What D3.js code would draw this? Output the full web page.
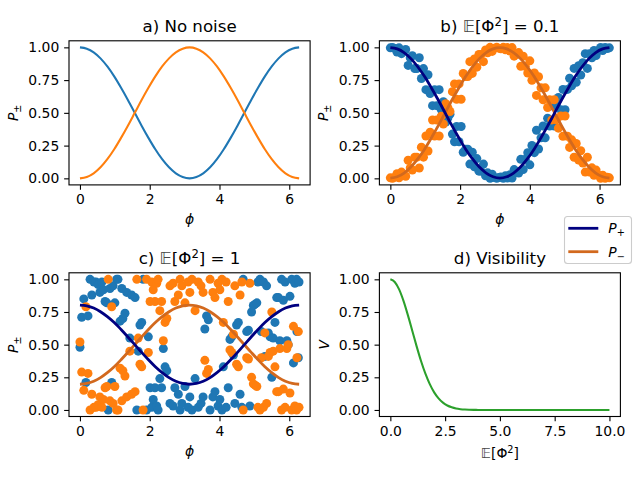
<!DOCTYPE html>
<html><head><meta charset="utf-8">
<script src="https://cdn.jsdelivr.net/npm/d3@7"></script>
<style>body{margin:0;background:#fff} text{font-family:"DejaVu Sans",sans-serif}</style>
</head><body><svg id="c" width="640" height="480"></svg>
<script>
// ---------- data ----------
const phiTicks = [0, 2, 4, 6];
const yTicks = [0, 0.25, 0.5, 0.75, 1.0];
const dTicks = [0, 2.5, 5, 7.5, 10];

// smooth curves (phi grid)
const linePhi = [0,0.196,0.393,0.589,0.785,0.982,1.178,1.374,1.571,1.767,1.963,2.160,2.356,2.553,2.749,2.945,3.142,3.338,3.534,3.731,3.927,4.123,4.320,4.516,4.712,4.909,5.105,5.301,5.498,5.694,5.890,6.087,6.283];
const aPlus  = [1,0.990,0.962,0.916,0.854,0.778,0.691,0.598,0.5,0.402,0.309,0.222,0.146,0.084,0.038,0.010,0,0.010,0.038,0.084,0.146,0.222,0.309,0.402,0.5,0.598,0.691,0.778,0.854,0.916,0.962,0.990,1];
const aMinus = [0,0.010,0.038,0.084,0.146,0.222,0.309,0.402,0.5,0.598,0.691,0.778,0.854,0.916,0.962,0.990,1,0.990,0.962,0.916,0.854,0.778,0.691,0.598,0.5,0.402,0.309,0.222,0.146,0.084,0.038,0.010,0];
const bLinePlus  = [0.998,0.988,0.960,0.914,0.852,0.777,0.690,0.598,0.5,0.402,0.310,0.223,0.148,0.086,0.040,0.012,0.002,0.012,0.040,0.086,0.148,0.223,0.310,0.402,0.5,0.598,0.690,0.777,0.852,0.914,0.960,0.988,0.998];
const bLineMinus = [0.002,0.012,0.040,0.086,0.148,0.223,0.310,0.402,0.5,0.598,0.690,0.777,0.852,0.914,0.960,0.988,0.998,0.988,0.960,0.914,0.852,0.777,0.690,0.598,0.5,0.402,0.310,0.223,0.148,0.086,0.040,0.012,0.002];
const cLinePlus  = [0.803,0.797,0.780,0.752,0.714,0.669,0.616,0.559,0.5,0.441,0.384,0.331,0.286,0.248,0.220,0.203,0.197,0.203,0.220,0.248,0.286,0.331,0.384,0.441,0.5,0.559,0.616,0.669,0.714,0.752,0.780,0.797,0.803];
const cLineMinus = [0.197,0.203,0.220,0.248,0.286,0.331,0.384,0.441,0.5,0.559,0.616,0.669,0.714,0.752,0.780,0.797,0.803,0.797,0.780,0.752,0.714,0.669,0.616,0.559,0.5,0.441,0.384,0.331,0.286,0.248,0.220,0.203,0.197];

// panel b scatter
const bPhi = [0,0.06,0.13,0.19,0.25,0.32,0.38,0.44,0.51,0.57,0.63,0.70,0.76,0.83,0.89,0.95,1.02,1.08,1.14,1.21,1.27,1.33,1.40,1.46,1.52,1.59,1.65,1.71,1.78,1.84,1.90,1.97,2.03,2.09,2.16,2.22,2.28,2.35,2.41,2.48,2.54,2.60,2.67,2.73,2.79,2.86,2.92,2.98,3.05,3.11,3.17,3.24,3.30,3.36,3.43,3.49,3.55,3.62,3.68,3.74,3.81,3.87,3.94,4.00,4.06,4.13,4.19,4.25,4.32,4.38,4.44,4.51,4.57,4.63,4.70,4.76,4.82,4.89,4.95,5.01,5.08,5.14,5.20,5.27,5.33,5.40,5.46,5.52,5.59,5.65,5.71,5.78,5.84,5.90,5.97,6.03,6.09,6.16,6.22,6.28];
const bPlus = [0.996,0.999,0.991,0.964,0.996,0.952,0.975,0.984,0.862,0.921,
0.936,0.838,0.838,0.921,0.762,0.838,0.677,0.791,0.648,0.555,
0.677,0.555,0.677,0.525,0.585,0.430,0.460,0.490,0.338,0.279,
0.396,0.279,0.396,0.199,0.223,0.223,0.109,0.199,0.088,0.151,
0.055,0.055,0.109,0.020,0.042,0.000,0.031,0.006,0.000,0.006,
0.011,0.000,0.019,0.002,0.028,0.002,0.067,0.053,0.040,0.145,
0.067,0.145,0.196,0.103,0.251,0.196,0.367,0.224,0.309,0.400,
0.309,0.459,0.400,0.554,0.400,0.554,0.617,0.524,0.679,0.524,
0.679,0.764,0.706,0.839,0.734,0.860,0.789,0.883,0.952,0.839,
0.952,0.920,0.976,0.937,0.976,0.999,0.976,0.999,0.991,0.996];
const bMinus = [0.004,0.001,0.009,0.036,0.004,0.048,0.025,0.016,0.138,0.079,
0.064,0.162,0.162,0.079,0.238,0.162,0.323,0.209,0.352,0.445,
0.323,0.445,0.323,0.475,0.415,0.570,0.540,0.510,0.662,0.721,
0.604,0.721,0.604,0.801,0.777,0.777,0.891,0.801,0.912,0.849,
0.945,0.945,0.891,0.980,0.958,1.000,0.969,0.994,1.000,0.994,
0.989,1.000,0.981,0.998,0.972,0.998,0.933,0.947,0.960,0.855,
0.933,0.855,0.804,0.897,0.749,0.804,0.633,0.776,0.691,0.600,
0.691,0.541,0.600,0.446,0.600,0.446,0.383,0.476,0.321,0.476,
0.321,0.236,0.294,0.161,0.266,0.140,0.211,0.117,0.048,0.161,
0.048,0.080,0.024,0.063,0.024,0.001,0.024,0.001,0.009,0.004];

// panel c scatter
const cPhi = [0.00,0.05,0.11,0.17,0.23,0.29,0.34,0.40,0.46,0.52,0.57,0.63,0.67,0.72,0.77,0.81,0.86,0.91,0.95,1.00,
1.05,1.09,1.15,1.20,1.23,1.29,1.34,1.43,1.48,1.58,1.63,1.67,1.72,1.77,1.81,1.91,1.96,2.01,2.06,2.10,
2.15,2.20,2.24,2.29,2.34,2.39,2.44,2.49,2.58,2.67,2.72,2.82,2.87,2.92,3.01,3.10,
3.15,3.21,3.30,3.39,3.47,3.53,3.58,3.63,3.68,3.73,3.81,3.87,3.96,4.01,4.07,4.11,4.19,4.25,4.30,4.35,
4.40,4.44,4.49,4.54,4.59,4.64,4.68,4.78,4.83,4.87,4.92,4.97,5.02,5.07,5.10,5.16,5.20,5.26,5.30,5.35,
5.40,5.45,5.50,5.54,5.59,5.64,5.69,5.73,5.78,5.83,5.88,5.93,5.97,6.02,6.07,6.12,6.16,6.21,6.22,6.26,6.28];
const cPlus = [0.48,0.71,0.85,0.21,0.72,1.00,0.88,0.98,0.98,0.96,0.90,0.98,0.92,0.83,0.82,0.00,0.93,0.21,0.95,0.82,
1.00,1.00,0.68,0.93,0.70,0.74,0.90,0.55,0.88,0.86,0.00,0.45,0.65,0.67,1.00,0.00,0.56,0.17,0.02,0.08,
0.17,0.03,0.00,0.24,0.17,0.47,0.33,0.30,0.05,0.03,0.17,0.12,0.00,0.05,0.18,0.02,
0.10,0.00,0.24,0.02,0.05,0.10,0.62,0.72,0.69,0.00,0.10,0.14,0.03,0.08,0.00,0.33,0.02,0.17,0.54,0.56,
0.42,0.05,0.65,0.67,0.12,0.02,1.00,0.60,0.61,0.03,0.75,0.80,0.81,0.82,0.98,1.00,0.60,0.98,0.41,0.95,
0.59,0.56,0.25,0.55,0.67,0.86,0.86,0.53,1.00,0.84,0.98,0.53,0.50,0.87,1.00,0.36,0.97,1.00,0.60,0.40,0.98];
const cMinus = [0.52,0.29,0.15,0.79,0.28,0.00,0.12,0.02,0.02,0.04,0.10,0.02,0.08,0.17,0.18,1.00,0.07,0.79,0.05,0.18,
0.00,0.00,0.32,0.07,0.30,0.26,0.10,0.45,0.12,0.14,1.00,0.55,0.35,0.33,0.00,1.00,0.44,0.83,0.98,0.92,
0.83,0.97,1.00,0.76,0.83,0.53,0.67,0.70,0.95,0.97,0.83,0.88,1.00,0.95,0.82,0.98,
0.90,1.00,0.76,0.98,0.95,0.90,0.38,0.28,0.31,1.00,0.90,0.86,0.97,0.92,1.00,0.67,0.98,0.83,0.46,0.44,
0.58,0.95,0.35,0.33,0.88,0.98,0.00,0.40,0.39,0.97,0.25,0.20,0.19,0.18,0.02,0.00,0.40,0.02,0.59,0.05,
0.41,0.44,0.75,0.45,0.33,0.14,0.14,0.47,0.00,0.16,0.02,0.47,0.50,0.13,0.00,0.64,0.03,0.00,0.40,0.60,0.02];

// panel d
const noiseVar = [0,0.2,0.4,0.6,0.8,1.0,1.2,1.4,1.6,1.8,2.0,2.2,2.4,2.6,2.8,3.0,3.2,3.4,3.6,3.8,4.0,5,6,7,8,9,10];
const visibility = [1,0.980,0.923,0.835,0.726,0.607,0.487,0.375,0.278,0.198,0.135,0.089,0.056,0.034,0.020,0.011,0.006,0.003,0.0015,0.0007,0.0003,0,0,0,0,0,0];

// ---------- drawing ----------
const C = {blue:"#1f77b4", orange:"#ff7f0e", green:"#2ca02c", navy:"#000080", choc:"#d2691e"};
const svg = d3.select("#c");
svg.append("rect").attr("width",640).attr("height",480).attr("fill","#fff");
const FS = 13.9;

const P = {
  a:{l:69.0,r:310.1,t:40.8,b:184.9},
  b:{l:379.4,r:620.4,t:40.8,b:184.9},
  c:{l:69.0,r:310.1,t:272.8,b:416.5},
  d:{l:379.4,r:620.4,t:272.8,b:416.5}
};
const phiDom = [-0.05*2*Math.PI, 1.05*2*Math.PI];

function setup(key, xdom){
  const p = P[key];
  const x = d3.scaleLinear().domain(xdom).range([p.l,p.r]);
  const y = d3.scaleLinear().domain([-0.05,1.05]).range([p.b,p.t]);
  svg.append("clipPath").attr("id","clip-"+key).append("rect")
    .attr("x",p.l).attr("y",p.t).attr("width",p.r-p.l).attr("height",p.b-p.t);
  const g = svg.append("g").attr("clip-path",`url(#clip-${key})`);
  return {p,x,y,g};
}
function axes(o, xt, xf){
  const {p,x,y} = o;
  const gx = svg.append("g").attr("transform",`translate(0,${p.b})`)
    .call(d3.axisBottom(x).tickValues(xt).tickFormat(xf).tickSize(4.86).tickPadding(4.3).tickSizeOuter(0));
  const gy = svg.append("g").attr("transform",`translate(${p.l},0)`)
    .call(d3.axisLeft(y).tickValues(yTicks).tickFormat(d3.format(".2f")).tickSize(4.86).tickPadding(4.86).tickSizeOuter(0));
  [gx,gy].forEach(s=>{
    s.attr("font-size",FS).attr("font-family","DejaVu Sans");
    s.select(".domain").remove();
    s.selectAll("line").attr("stroke","#000").attr("stroke-width",1.11);
    s.selectAll("text").attr("fill","#000");
  });
  svg.append("rect").attr("x",p.l).attr("y",p.t).attr("width",p.r-p.l).attr("height",p.b-p.t)
    .attr("fill","none").attr("stroke","#000").attr("stroke-width",1.11);
}
function lineFor(o, xs, ys, color, w){
  const pts = xs.map((v,i)=>[v, ys[i]]);
  o.g.append("path").datum(pts).attr("fill","none").attr("stroke",color).attr("stroke-width",w)
    .attr("stroke-linejoin","round")
    .attr("d", d3.line().x(d=>o.x(d[0])).y(d=>o.y(d[1])).curve(d3.curveMonotoneX));
}
function scatter(o, xs, ys, color){
  const n = Math.min(xs.length, ys.length);
  o.g.append("g").selectAll("circle").data(d3.range(n)).join("circle")
    .attr("cx",i=>o.x(xs[i])).attr("cy",i=>o.y(ys[i])).attr("r",4.5).attr("fill",color);
}
function title(o, build){
  const t = svg.append("text").attr("x",(o.p.l+o.p.r)/2).attr("y",o.p.t-9.3)
    .attr("text-anchor","middle").attr("font-size",16.67).attr("fill","#000");
  build(t);
}
function ylabelP(o, x){
  const t = svg.append("text").attr("transform",`translate(${x},${(o.p.t+o.p.b)/2}) rotate(-90)`)
    .attr("text-anchor","middle").attr("font-size",FS).attr("fill","#000");
  t.append("tspan").attr("font-style","italic").text("P");
  t.append("tspan").attr("font-size",FS*0.7).attr("dy",3).text("±");
}
function xlabelPhi(o){
  svg.append("text").attr("x",(o.p.l+o.p.r)/2).attr("y",o.p.b+39.5)
    .attr("text-anchor","middle").attr("font-size",FS).attr("font-style","italic").attr("fill","#000").text("ϕ");
}
function eTitle(t, prefix, suffix){
  t.append("tspan").text(prefix);
  t.append("tspan").attr("fill","#444").text("𝔼");
  t.append("tspan").text("[Φ");
  t.append("tspan").attr("font-size","70%").attr("dy","-0.45em").text("2");
  t.append("tspan").attr("dy","0.315em").text(suffix);
}

// Panel a
const A = setup("a", phiDom);
lineFor(A, linePhi, aPlus, C.blue, 2.08);
lineFor(A, linePhi, aMinus, C.orange, 2.08);
axes(A, phiTicks, d3.format("d"));
title(A, t=>t.text("a) No noise"));
ylabelP(A, 18);
xlabelPhi(A);

// Panel b
const B = setup("b", phiDom);
scatter(B, bPhi, bPlus, C.blue);
scatter(B, bPhi, bMinus, C.orange);
lineFor(B, linePhi, bLineMinus, C.choc, 2.8);
lineFor(B, linePhi, bLinePlus, C.navy, 2.8);
axes(B, phiTicks, d3.format("d"));
title(B, t=>eTitle(t, "b) ", "] = 0.1"));
ylabelP(B, 328.4);
xlabelPhi(B);

// Panel c
const Cp = setup("c", phiDom);
scatter(Cp, cPhi, cPlus, C.blue);
scatter(Cp, cPhi, cMinus, C.orange);
lineFor(Cp, linePhi, cLineMinus, C.choc, 2.8);
lineFor(Cp, linePhi, cLinePlus, C.navy, 2.8);
axes(Cp, phiTicks, d3.format("d"));
title(Cp, t=>eTitle(t, "c) ", "] = 1"));
ylabelP(Cp, 18);
xlabelPhi(Cp);

// Panel d
const D = setup("d", [-0.5, 10.5]);
lineFor(D, noiseVar, visibility, C.green, 2.08);
axes(D, dTicks, d3.format(".1f"));
title(D, t=>t.text("d) Visibility"));
svg.append("text").attr("transform",`translate(329,${(D.p.t+D.p.b)/2}) rotate(-90)`)
  .attr("text-anchor","middle").attr("font-size",FS).attr("font-style","italic").attr("fill","#000").text("V");
{
  const t = svg.append("text").attr("x",(D.p.l+D.p.r)/2).attr("y",D.p.b+41)
    .attr("text-anchor","middle").attr("font-size",FS).attr("fill","#000");
  t.append("tspan").attr("fill","#444").text("𝔼");
  t.append("tspan").text("[Φ");
  t.append("tspan").attr("font-size","70%").attr("dy","-0.45em").text("2");
  t.append("tspan").attr("dy","0.315em").text("]");
}

// Legend
const legend = [{label:"+", color:C.navy},{label:"−", color:C.choc}];
const lg = svg.append("g");
lg.append("rect").attr("x",564.5).attr("y",216.5).attr("width",67).attr("height",47).attr("rx",3)
  .attr("fill","#fff").attr("fill-opacity",0.8).attr("stroke","#cccccc").attr("stroke-width",1.1);
legend.forEach((d,i)=>{
  const yy = 228.3 + i*23.4;
  lg.append("line").attr("x1",568.3).attr("x2",598.3).attr("y1",yy).attr("y2",yy)
    .attr("stroke",d.color).attr("stroke-width",2.8);
  const t = lg.append("text").attr("x",608.3).attr("y",yy+5).attr("font-size",FS).attr("fill","#000");
  t.append("tspan").attr("font-style","italic").text("P");
  t.append("tspan").attr("font-size",FS*0.7).attr("dy",3).text(d.label);
});
</script></body></html>
